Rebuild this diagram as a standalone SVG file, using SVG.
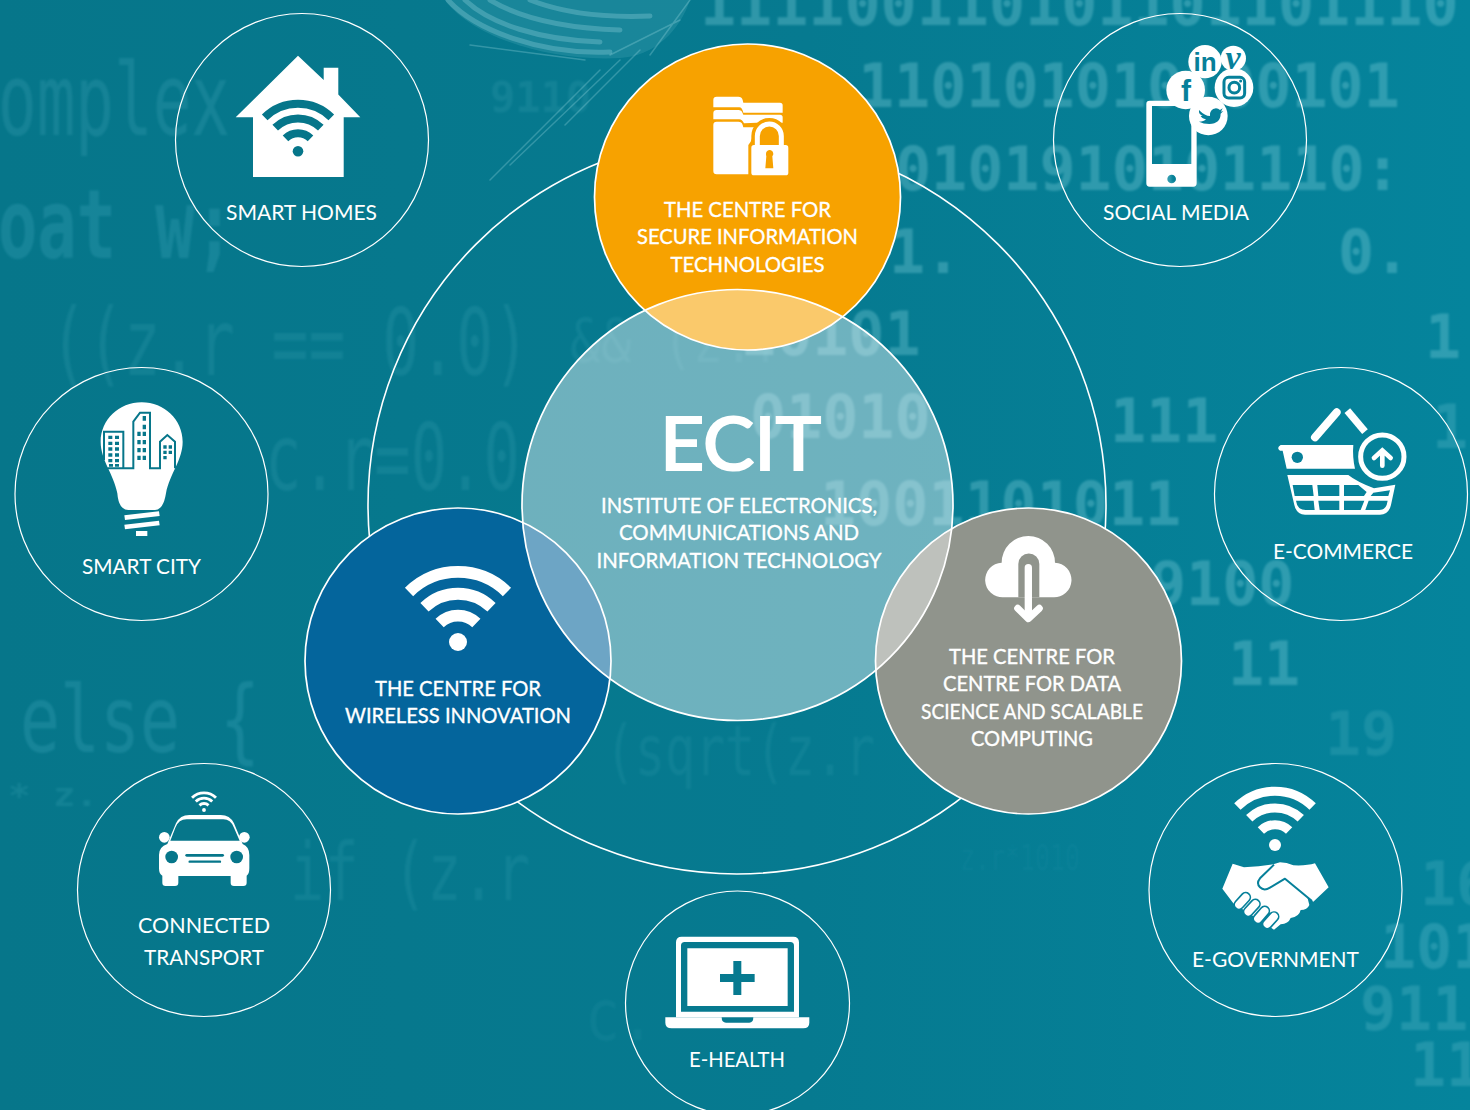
<svg xmlns="http://www.w3.org/2000/svg" width="1470" height="1110" viewBox="0 0 1470 1110">
<style>
.ring{fill:none;stroke:#fff;stroke-width:1.2}
.hub{stroke:#fff;stroke-width:1.7}
.lbl{font-family:"Lato","Liberation Sans",sans-serif;font-size:21.5px;fill:#fff;text-anchor:middle}
.b{stroke:#fff;stroke-width:.35}
.w{fill:#fff}
.hi{font-family:"DejaVu Sans Mono",monospace;font-weight:700;font-size:60px;fill:#8fdbe6;fill-opacity:.3}
.lo{font-family:"DejaVu Sans Mono",monospace;font-size:92px;fill:#5cc0d0;fill-opacity:.17}
.wl{stroke:#fff;fill:none;stroke-linecap:round}
</style>
<defs>
<linearGradient id="bg" x1="0" y1="0" x2="1" y2="0">
<stop offset="0" stop-color="#06768a"/><stop offset=".55" stop-color="#067a90"/><stop offset="1" stop-color="#05849c"/>
</linearGradient>
<filter id="soft" x="-5%" y="-5%" width="110%" height="110%"><feGaussianBlur stdDeviation="1.2"/></filter>
<g id="wifi" fill="none" stroke="currentColor" stroke-width="8">
<path d="M-33.3-34A47.5 47.5 0 0 1 33.3-34M-22.8-23.6A32.8 32.8 0 0 1 22.8-23.6M-12.5-12.9A18 18 0 0 1 12.5-12.9"/>
<circle r="5.3" fill="currentColor" stroke="none"/>
</g>
</defs>
<g id="background">
<rect width="1470" height="1110" fill="url(#bg)"/>
<g filter="url(#soft)">
<text class="hi" x="700" y="25">111100110101101101110</text>
<text class="hi" x="858" y="107">110101010100101</text>
<text class="hi" x="895" y="190">0101910101110:</text>
<text class="hi" x="889" y="273">1.</text>
<text class="hi" x="1338" y="273">0.</text>
<text class="hi" x="740" y="355">10101</text>
<text class="hi" x="750" y="438">01010</text>
<text class="hi" x="1110" y="442">111</text>
<text class="hi" x="820" y="525">1001101011</text>
<text class="hi" x="1150" y="605">9100</text>
<text class="hi" x="1228" y="685">11</text>
<text class="hi" x="1425" y="358">1</text>
<text class="hi" x="1432" y="448" style="fill-opacity:.2">1</text>
<text class="hi" x="1325" y="755" style="fill-opacity:.14">19</text>
<text class="hi" x="1420" y="905" style="fill-opacity:.16">16</text>
<text class="hi" x="1380" y="968" style="fill-opacity:.22">101</text>
<text class="hi" x="1360" y="1030" style="fill-opacity:.2">9110</text>
<text class="hi" x="1410" y="1086" style="fill-opacity:.2">11</text>
<text class="hi" x="490" y="112" style="font-size:42px;fill-opacity:.09">9110</text>
<text class="lo" x="-2" y="135" textLength="232" lengthAdjust="spacingAndGlyphs" style="font-size:100px">omplex</text>
<text class="lo" x="-2" y="258" textLength="236" lengthAdjust="spacingAndGlyphs" style="font-weight:700;font-size:96px;fill-opacity:.2">oat w;</text>
<text class="lo" x="50" y="375" textLength="480" lengthAdjust="spacingAndGlyphs" style="fill-opacity:.13">((z.r == 0.0)</text>
<text class="lo" x="265" y="490" textLength="255" lengthAdjust="spacingAndGlyphs" style="fill-opacity:.13">c.r=0.0</text>
<text class="lo" x="20" y="752" textLength="240" lengthAdjust="spacingAndGlyphs" style="fill-opacity:.2">else {</text>
<text class="lo" x="290" y="900" textLength="240" lengthAdjust="spacingAndGlyphs" style="font-size:80px;fill-opacity:.12">if (z.r</text>
<text class="lo" x="605" y="775" textLength="270" lengthAdjust="spacingAndGlyphs" style="font-size:70px;fill-opacity:.1">(sqrt(z.r</text>
<text class="lo" x="570" y="362" textLength="215" lengthAdjust="spacingAndGlyphs" style="font-size:60px;fill-opacity:.12">&amp;&amp; (z.r</text>
<text class="lo" x="8" y="806" textLength="90" lengthAdjust="spacingAndGlyphs" style="font-size:32px;font-weight:700;fill-opacity:.15">* z.</text>
<text class="lo" x="585" y="1040" textLength="70" lengthAdjust="spacingAndGlyphs" style="font-size:72px;fill-opacity:.08">c.</text>
<text class="lo" x="960" y="870" textLength="120" lengthAdjust="spacingAndGlyphs" style="font-size:36px;fill-opacity:.06">z.r*1010</text>
</g>
<g fill="none" stroke="#a8e4ea" stroke-opacity=".28" stroke-linecap="round">
<path d="M445 0C470 35 545 62 620 58C655 56 680 30 690 0" style="fill:#8fdbe6;fill-opacity:.14" stroke="none"/>
<path d="M448 0C475 30 540 55 610 52M465 0C490 24 540 40 600 42M490 0C520 18 560 28 620 30M530 0C560 12 600 18 650 16" stroke-width="5"/>
<path d="M600 70L490 180M620 60L510 165M640 50L565 125M585 60L470 45M690 0L650 55M610 55L680 20" stroke-width="1.5"/>
</g>
</g>
<g id="connectors">
<circle class="ring" cx="737" cy="505" r="369" style="stroke-width:1.6"/>
</g>

<g id="smart-homes">
<circle class="ring" cx="302" cy="140" r="126.5"/>
<path class="w" d="M298 55.7L323.7 80V67.7H338.3V94.5L360.3 117.3H343.7V177H253V117.3H235.7Z"/>
<use href="#wifi" x="298" y="151.3" color="#06768a"/>
<text class="lbl" x="301.5" y="220" textLength="151" lengthAdjust="spacingAndGlyphs">SMART HOMES</text>
</g>

<g id="social-media">
<circle class="ring" cx="1180" cy="140" r="126.5"/>
<g transform="translate(1050 10) scale(.3333)">
<path class="w" fill-rule="evenodd" d="M299 272H430Q440 272 440 282V520Q440 530 430 530H299Q289 530 289 520V282Q289 272 299 272ZM306 288V462H424V288ZM365 494A13 13 0 1 0 365 520A13 13 0 1 0 365 494Z"/>
<circle class="w" cx="465" cy="155" r="50"/><circle class="w" cx="550" cy="145" r="38"/>
<circle class="w" cx="407" cy="240" r="58"/><circle class="w" cx="552" cy="233" r="58"/>
<circle class="w" cx="475" cy="318" r="58"/>
<g fill="none" stroke="#06809a" stroke-width="9"><rect x="522" y="202" width="62" height="62" rx="14"/><circle cx="553" cy="233" r="16"/></g>
<circle cx="572" cy="213" r="4.5" fill="#06809a"/>
<path fill="#06809a" d="M447 300Q465 318 480 318Q478 298 498 295Q505 295 510 300L518 295L513 305L520 303L512 311Q512 340 478 342Q460 342 447 335Q462 335 468 328Q455 325 452 318L458 318Q447 312 447 305Z"/>
</g>
<g font-family="'Liberation Sans',sans-serif" font-weight="700" fill="#06809a" text-anchor="middle">
<text x="1205" y="71" font-size="26">in</text>
<text x="1186" y="101" font-size="30">f</text>
<text x="1233" y="69" font-size="34" font-style="italic" font-family="'Liberation Serif',serif">v</text>
</g>
<text class="lbl" x="1176" y="220" textLength="146" lengthAdjust="spacingAndGlyphs">SOCIAL MEDIA</text>
</g>

<g id="smart-city">
<circle class="ring" cx="141.5" cy="494" r="126.5"/>
<g transform="translate(60 390) scale(.3333)">
<path class="w" d="M245 37C177 37 122 90 122 155C122 210 160 250 172 310Q176 360 205 360H285Q310 360 318 310C330 250 368 210 368 155C368 90 313 37 245 37Z"/>
<path class="w" d="M193 376L297 364L299 378L195 390ZM193 404L297 392L299 406L195 418ZM228 423H262V438H228Z"/>
<path fill="none" stroke="#06768a" stroke-width="6" d="M132 210V125H190V235H142M190 235H220V95L240 68H270V235H300V155L322 135L345 155V235"/>
<g fill="#06768a">
<path d="M145 137h12v10h-12zM165 137h12v10h-12zM145 155h12v10h-12zM165 155h12v10h-12zM145 172h12v10h-12zM165 172h12v10h-12zM145 190h12v10h-12zM165 190h12v10h-12zM145 207h12v10h-12zM165 207h12v10h-12zM147 222h12v8h-12zM165 222h12v8h-12z"/>
<path d="M248 78h10v14h-10zM248 104h10v14h-10zM232 125h10v13h-10zM248 125h10v13h-10zM232 150h10v13h-10zM248 150h10v13h-10zM232 174h10v13h-10zM248 174h10v13h-10zM232 197h10v13h-10zM248 197h10v13h-10z"/>
<path d="M310 166h10v10h-10zM326 166h10v10h-10zM310 182h10v10h-10zM326 182h10v10h-10zM310 198h10v10h-10z"/>
</g>
</g>
<text class="lbl" x="141.5" y="574" textLength="119" lengthAdjust="spacingAndGlyphs">SMART CITY</text>
</g>

<g id="e-commerce">
<circle class="ring" cx="1341" cy="494" r="126.5"/>
<g transform="translate(1210 380) scale(.3333)">
<path class="wl" stroke-width="24" d="M315 172L380 97"/>
<path class="wl" stroke-width="22" d="M412 92L465 155" style="stroke-linecap:butt"/>
<circle cx="517" cy="230" r="65" fill="none" stroke="#fff" stroke-width="15"/>
<path class="wl" stroke-width="14" d="M517 257V215M492 234L517 211L542 234"/>
<path class="w" d="M212 195H430Q427 230 435 266H230L218 212H210Q198 204 212 195Z"/>
<circle cx="262" cy="232" r="17" fill="#06809a"/>
<path class="w" d="M232 285H415Q440 305 492 325L556 314L543 375Q536 404 510 404H285Q260 404 253 375ZM248 315L254 348H311L307 315ZM322 315L325 348H388V315ZM402 315V348H462L470 336L445 315ZM258 362Q262 390 287 390H314L311 362ZM325 362L329 390H388V362ZM402 362V390H452L463 362ZM476 362L466 390H508Q524 390 530 375L533 362ZM482 348H535L540 331L490 338Z" fill-rule="evenodd"/>
</g>
<text class="lbl" x="1343" y="559" textLength="140" lengthAdjust="spacingAndGlyphs">E-COMMERCE</text>
</g>

<g id="connected-transport">
<circle class="ring" cx="204" cy="890" r="126.5"/>
<use href="#wifi" transform="translate(204 810) scale(.36)" color="#fff"/>
<g transform="translate(130 780) scale(.3333)">
<circle class="w" cx="103" cy="172" r="16"/><circle class="w" cx="343" cy="172" r="16"/>
<path class="w" d="M112 192L138 130Q150 105 178 105H272Q300 105 312 130L338 192Q358 200 358 225V265Q358 283 350 287V308Q350 318 340 318H312Q302 318 302 308V288H145V308Q145 318 135 318H107Q97 318 97 308V287Q87 283 87 265V225Q87 200 112 192Z"/>
<path fill="#06768a" d="M121 182L136 143Q146 118 170 118H280Q302 118 312 143L329 182Z"/>
<circle cx="125" cy="231" r="19" fill="#06768a"/><circle cx="320" cy="231" r="19" fill="#06768a"/>
<path stroke="#06768a" stroke-linecap="round" d="M170 226H278" stroke-width="8"/><path stroke="#06768a" stroke-linecap="round" d="M179 245H270" stroke-width="7"/>
</g>
<text class="lbl" x="204" y="933" textLength="132" lengthAdjust="spacingAndGlyphs">CONNECTED</text>
<text class="lbl" x="204" y="965" textLength="120" lengthAdjust="spacingAndGlyphs">TRANSPORT</text>
</g>

<g id="e-government">
<circle class="ring" cx="1275.5" cy="890" r="126.5"/>
<use href="#wifi" transform="translate(1275 845) scale(1.13)" color="#fff"/>
<g transform="translate(1180 770) scale(.3333)">
<path class="w" d="M158 281L192 292Q240 290 280 283L300 277Q320 277 340 286Q380 288 405 280L446 352L400 395L382 381L388 405Q382 420 362 420Q358 440 332 444Q325 462 302 463L282 479L160 400L127 356Z"/>
<path fill="none" stroke="#06809a" stroke-width="6" stroke-linejoin="round" d="M282 284L240 325Q228 340 240 352Q252 364 270 353L315 326L396 393"/>
<g stroke="#06809a" stroke-width="33" stroke-linecap="round"><path d="M177 404L197 382M205 425L226 402M234 446L254 423M262 462L282 440"/></g>
<g class="wl" stroke-width="23"><path d="M177 404L197 382M205 425L226 402M234 446L254 423M262 462L282 440"/></g>
</g>
<text class="lbl" x="1275.5" y="967" textLength="167" lengthAdjust="spacingAndGlyphs">E-GOVERNMENT</text>
</g>

<g id="e-health">
<circle class="ring" cx="737.5" cy="1003" r="112"/>
<g transform="translate(650 920) scale(.3333)">
<path class="w" fill-rule="evenodd" d="M95 50H430Q447 50 447 67V292H78V67Q78 50 95 50ZM104 66Q93 66 93 77V275H432V77Q432 66 421 66Z"/>
<path class="w" fill-rule="evenodd" d="M112 85H413V258H112ZM250 123V162H210V186H250V225H274V186H314V162H274V123Z"/>
<path class="w" d="M46 292H215Q215 308 228 308H298Q310 308 310 292H478V308Q478 325 460 325H65Q46 325 46 308Z"/>
</g>
<text class="lbl" x="737" y="1067" textLength="96" lengthAdjust="spacingAndGlyphs">E-HEALTH</text>
</g>

<g id="secure-information">
<circle class="hub" cx="747.5" cy="197" r="153" fill="#f7a200"/>
<g transform="translate(680 80) scale(.3333)">
<path class="w" d="M100 82V60Q100 50 110 50H175Q185 50 188 60L190 68H300Q308 68 308 76V98H190Q186 82 178 82Z"/>
<path class="w" d="M100 118V100Q100 90 110 90H175Q185 90 188 100L190 104H300Q308 104 308 112V128H230L192 130Q186 118 178 118Z"/>
<path class="w" d="M100 135Q100 125 110 125H175Q185 125 188 135L190 142H228L212 185L205 195V283H110Q100 283 100 273Z"/>
<path fill="none" stroke="#f7a200" stroke-width="28" d="M228 200V168A40 40 0 0 1 308 168V200"/>
<path fill="none" stroke="#fff" stroke-width="15" d="M232 200V168A36 36 0 0 1 304 168V200"/>
<rect x="214" y="195" width="111" height="91" rx="8" fill="#fff"/>
<path fill="#f7a200" d="M258 222A11 11 0 1 1 277 229L280 265H256L259 229Q258 226 258 222Z"/>
</g>
<g class="lbl b">
<text x="747.5" y="217" textLength="167" lengthAdjust="spacingAndGlyphs">THE CENTRE FOR</text>
<text x="747.5" y="244" textLength="221" lengthAdjust="spacingAndGlyphs">SECURE INFORMATION</text>
<text x="747.5" y="272" textLength="154" lengthAdjust="spacingAndGlyphs">TECHNOLOGIES</text>
</g>
</g>

<g id="wireless-innovation">
<circle class="hub" cx="458" cy="661" r="153" fill="#04659c"/>
<use href="#wifi" transform="translate(458 642) scale(1.47)" color="#fff"/>
<circle cx="458" cy="642" r="9" fill="#fff"/>
<g class="lbl b">
<text x="458" y="696" textLength="166" lengthAdjust="spacingAndGlyphs">THE CENTRE FOR</text>
<text x="458" y="723" textLength="226" lengthAdjust="spacingAndGlyphs">WIRELESS INNOVATION</text>
</g>
</g>

<g id="data-science">
<circle class="hub" cx="1028.5" cy="661" r="153" fill="#90948c"/>
<g transform="translate(960 520) scale(.3333)">
<path class="w" d="M130 232A52 52 0 0 1 125 128A80 80 0 0 1 285 128A52 52 0 0 1 280 232Z"/>
<path fill="#90948c" d="M175 232V132A31 31 0 0 1 238 132V232Z"/>
<path class="wl" stroke-width="22" d="M205 143V292"/>
<path class="wl" stroke-width="21" stroke-linejoin="round" d="M173 265L205 296L238 265"/>
</g>
<g class="lbl b">
<text x="1032" y="664" textLength="166" lengthAdjust="spacingAndGlyphs">THE CENTRE FOR</text>
<text x="1032" y="691" textLength="178" lengthAdjust="spacingAndGlyphs">CENTRE FOR DATA</text>
<text x="1032" y="719" textLength="222" lengthAdjust="spacingAndGlyphs">SCIENCE AND SCALABLE</text>
<text x="1032" y="746" textLength="122" lengthAdjust="spacingAndGlyphs">COMPUTING</text>
</g>
</g>

<g id="ecit">
<circle class="hub" cx="737.5" cy="505" r="215.5" fill="#fff" fill-opacity=".42"/>
<text class="lbl" x="740.5" y="470" textLength="161" lengthAdjust="spacingAndGlyphs" style="font-size:73px;stroke:#fff;stroke-width:2.2">ECIT</text>
<g class="lbl b">
<text x="739" y="513" textLength="276" lengthAdjust="spacingAndGlyphs">INSTITUTE OF ELECTRONICS,</text>
<text x="739" y="540" textLength="240" lengthAdjust="spacingAndGlyphs">COMMUNICATIONS AND</text>
<text x="739" y="568" textLength="285" lengthAdjust="spacingAndGlyphs">INFORMATION TECHNOLOGY</text>
</g>
</g>
</svg>
